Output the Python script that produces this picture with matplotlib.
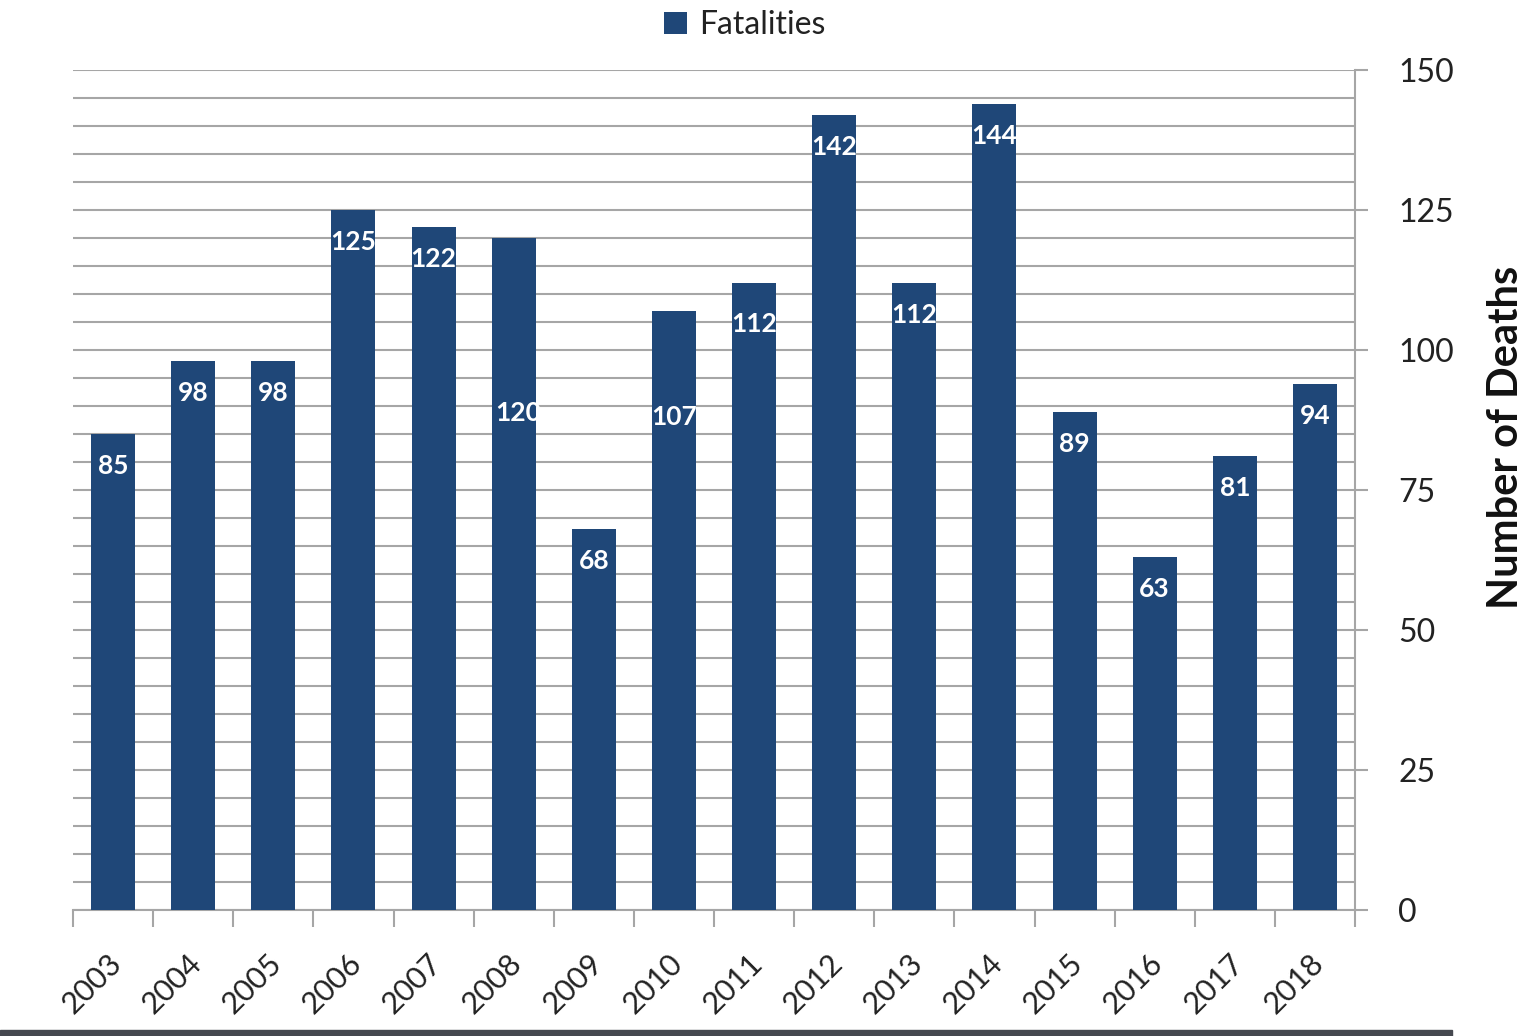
import numpy as np
import matplotlib.pyplot as plt
import matplotlib.transforms as mtransforms
from matplotlib.patches import Rectangle

# Yearly fatalities
years = ['2003', '2004', '2005', '2006', '2007', '2008', '2009', '2010',
         '2011', '2012', '2013', '2014', '2015', '2016', '2017', '2018']
fatalities = [85, 98, 98, 125, 122, 120, 68, 107, 112, 142, 112, 144, 89, 63, 81, 94]

bar_color = '#1F4778'
grid_color = '#A6A6A6'
plt.rcParams['font.family'] = ['Lato', 'DejaVu Sans']

fig = plt.figure(figsize=(15.32, 10.36), dpi=100)
ax = fig.add_axes([73 / 1532, 1 - 910 / 1036, 1282 / 1532, 840 / 1036])

x = np.arange(len(years))
bars = ax.bar(x, fatalities, width=0.55, color=bar_color, zorder=3,
              label='Fatalities')

# value labels sit just under the bar top; a few were nudged down
label_shift = {'2008': 25.5, '2010': 13.3, '2011': 1.7}
for rect, yr, val in zip(bars, years, fatalities):
    y = val - 5.7 - label_shift.get(yr, 0)
    dx = 0.06 if yr == '2008' else 0
    t = ax.text(rect.get_x() + rect.get_width() / 2 + dx, y, str(val),
                ha='center', va='center', color='white', fontsize=19,
                fontweight='bold', zorder=4)
    t.set_clip_path(rect)

ax.set_xlim(-0.5, len(years) - 0.5)
ax.set_ylim(0, 150)

# y axis on the right, gridlines every 5
ax.yaxis.tick_right()
ax.set_yticks(np.arange(0, 151, 25))
ax.set_yticks(np.arange(0, 151, 5), minor=True)
ax.tick_params(axis='y', which='major', length=9, width=1.5, color=grid_color,
               labelsize=23, pad=22, labelcolor='#222222')
ax.tick_params(axis='y', which='minor', length=0)
ax.grid(axis='y', which='both', color=grid_color, linewidth=1.5, zorder=0)

# category boundaries carry the tick marks, labels sit under the bars
ax.set_xticks(x)
ax.set_xticklabels(years, rotation=45, ha='right', va='top',
                   rotation_mode='anchor', fontsize=22, color='#222222')
ax.set_xticks(np.arange(-0.5, len(years), 1), minor=True)
ax.tick_params(axis='x', which='major', length=0, pad=28)
ax.tick_params(axis='x', which='minor', length=12, width=1.5, color=grid_color)

# nudge the slanted year labels a little to the left
shift = mtransforms.ScaledTranslation(-6 / 100, 0, fig.dpi_scale_trans)
for lbl in ax.get_xticklabels():
    lbl.set_transform(lbl.get_transform() + shift)

for side in ['left', 'top']:
    ax.spines[side].set_visible(False)
for side in ['right', 'bottom']:
    ax.spines[side].set_color(grid_color)
    ax.spines[side].set_linewidth(1.5)

fig.text(1506 / 1532, 1 - 437 / 1036, 'Number of Deaths', rotation=90,
         ha='center', va='center', fontsize=30, fontweight='bold',
         color='#111111')

fig.legend(handles=[bars], labels=['Fatalities'], loc='center',
           bbox_to_anchor=(745 / 1532, 1 - 25 / 1036), frameon=False,
           fontsize=23, handlelength=0.7, handleheight=0.7,
           handletextpad=0.4, labelcolor='#222222')

# dark strip along the bottom edge
fig.patches.append(Rectangle((0, 0), 1452 / 1532, 6 / 1036,
                             transform=fig.transFigure, color='#45484F',
                             zorder=5))

fig.savefig('out.png', dpi=100)
